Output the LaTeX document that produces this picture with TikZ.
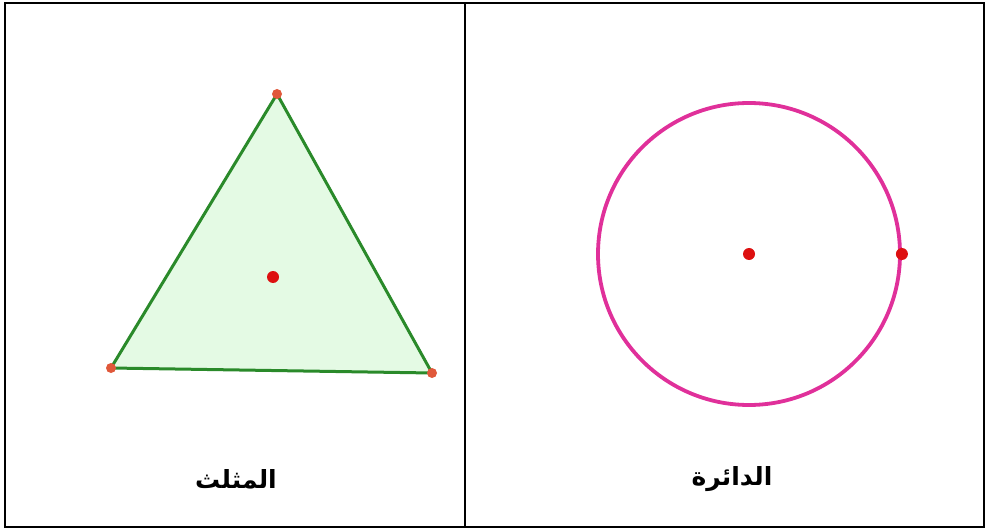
\documentclass[tikz,border=0pt]{standalone}
\usepackage{fontspec}
\usepackage{tikz}
\usetikzlibrary{positioning,calc}
\newfontfamily\arabicfont[Script=Arabic]{DejaVu Sans}
\TeXXeTstate=1
\definecolor{edge}{HTML}{2A8A2A}
\definecolor{face}{HTML}{E4FAE4}
\definecolor{ring}{HTML}{E0309A}
\definecolor{dot}{HTML}{DD1010}
\definecolor{vertex}{HTML}{E0583A}

\begin{document}
\begin{tikzpicture}[
  x=1pt, y=-1pt,
  frame/.style={draw=black, line width=2.6pt},
  shapelabel/.style={font=\arabicfont\bfseries\fontsize{25}{28}\selectfont, inner sep=0pt},
  vdot/.style={circle, fill=vertex, inner sep=0pt, minimum size=10pt},
  cdot/.style={circle, fill=dot, inner sep=0pt, minimum size=12pt},
  ringnode/.style={circle, draw=ring, line width=3.8pt, minimum size=302pt, inner sep=0pt},
]
  \useasboundingbox (0,0) rectangle (987,529);

  % table
  \draw[frame] (5,3) rectangle (984,527);
  \draw[frame] (465,3) -- (465,527);

  % triangle cell
  \coordinate (ta) at (277,94);
  \coordinate (tb) at (111,368);
  \coordinate (tc) at (432,373);
  \fill[face] (ta) -- (tb) -- (tc) -- cycle;
  \draw[edge, line width=3pt, line join=round] (ta) -- (tb) -- (tc) -- cycle;
  \node[vdot] (pa) at (ta) {};
  \node[vdot] (pb) at (tb) {};
  \node[vdot] (pc) at (tc) {};
  \node[cdot] (tcen) at (273,277) {};
  \node[shapelabel] (tlab) at (236,479) {\beginR المثلث\endR};

  % circle cell
  \node[ringnode] (circ) at (749,254) {};
  \node[cdot] (ccen) at (circ.center) {};
  \node[cdot] (cpt) at (circ.east) {};
  \node[shapelabel] (clab) at (732,479) {\beginR الدائرة\endR};
\end{tikzpicture}
\end{document}
